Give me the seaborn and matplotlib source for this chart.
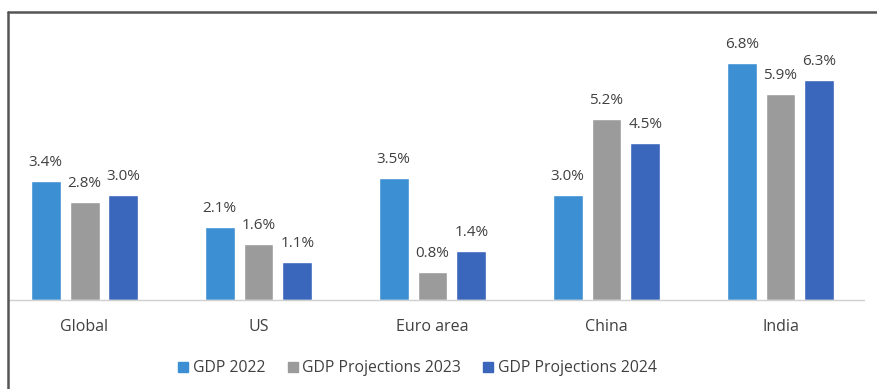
import matplotlib
matplotlib.use("Agg")
import matplotlib.pyplot as plt
import seaborn as sns
import pandas as pd
from matplotlib.lines import Line2D

categories = ["Global", "US", "Euro area", "China", "India"]
series_names = ["GDP 2022", "GDP Projections 2023", "GDP Projections 2024"]
gdp_2022 = [3.4, 2.1, 3.5, 3.0, 6.8]
gdp_2023 = [2.8, 1.6, 0.8, 5.2, 5.9]
gdp_2024 = [3.0, 1.1, 1.4, 4.5, 6.3]
colors = ["#3d8fd3", "#9b9b9b", "#3a66bb"]

rows = []
for s, vals in zip(series_names, [gdp_2022, gdp_2023, gdp_2024]):
    for c, v in zip(categories, vals):
        rows.append({"category": c, "series": s, "value": v})
df = pd.DataFrame(rows)

sns.set_theme(style="white")
plt.rcParams["font.family"] = ["Open Sans", "DejaVu Sans"]
text_color = "#404040"

fig = plt.figure(figsize=(8.77, 3.89), dpi=100)
ax = fig.add_axes([8 / 877, 89 / 389, 856 / 877, 265 / 389])

sns.barplot(data=df, x="category", y="value", hue="series", order=categories,
            hue_order=series_names, palette=colors, width=0.67, gap=0.23,
            saturation=1, ax=ax, legend=False, errorbar=None)

for cont in ax.containers:
    ax.bar_label(cont, labels=[f"{b.get_height():.1f}%" for b in cont],
                 padding=8, fontsize=11, color=text_color)

ax.set_xlim(-0.44, 4.48)
ax.set_ylim(0, 7.6)
ax.set_xlabel("")
ax.set_ylabel("")
ax.set_yticks([])
for side in ["top", "right", "left"]:
    ax.spines[side].set_visible(False)
ax.spines["bottom"].set_color("#d0d0d0")
ax.spines["bottom"].set_linewidth(1.0)
ax.tick_params(axis="x", length=0, pad=14, labelsize=11.5, labelcolor=text_color)

handles = [Line2D([0], [0], marker="s", linestyle="none", markersize=7,
                  markerfacecolor=c, markeredgecolor=c) for c in colors]
fig.legend(handles, series_names, loc="center", bbox_to_anchor=(416 / 877, 1 - 368 / 389),
           ncol=3, frameon=False, fontsize=11.3, handletextpad=0.1, columnspacing=1.25,
           handlelength=1.0, labelcolor=text_color)

# frame lines (top and left)
fig.add_artist(Line2D([8 / 877, 1.0], [1 - 12 / 389, 1 - 12 / 389], transform=fig.transFigure,
                      color="#555555", linewidth=1.8))
fig.add_artist(Line2D([8 / 877, 8 / 877], [0, 1 - 12 / 389], transform=fig.transFigure,
                      color="#555555", linewidth=1.8))

fig.savefig("out.png", dpi=100)
